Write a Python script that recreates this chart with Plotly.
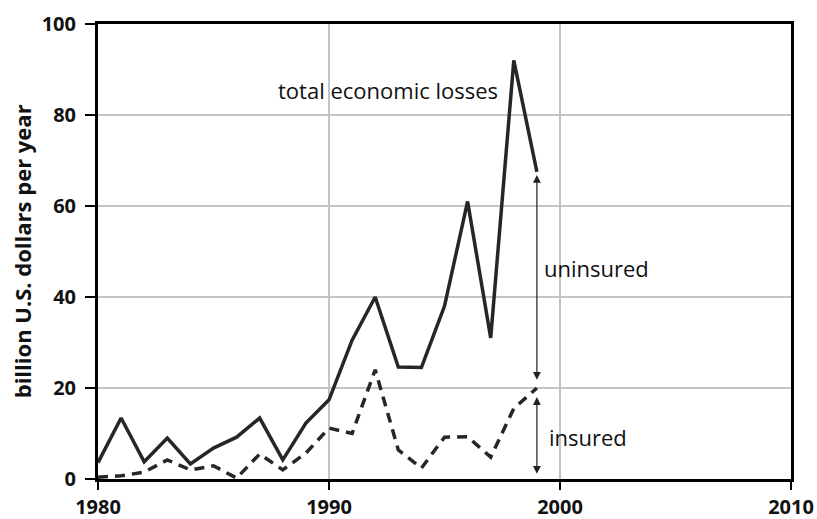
import plotly.graph_objects as go

years = list(range(1980, 2000))
total_losses = [3.6, 13.4, 3.8, 9.0, 3.3, 6.8, 9.2, 13.4, 4.2, 12.3, 17.4,
                30.5, 40.0, 24.6, 24.5, 38.0, 61.0, 31.0, 92.0, 67.5]
insured_losses = [0.4, 0.7, 1.5, 4.2, 2.0, 2.9, 0.2, 5.5, 2.0, 5.7, 11.2,
                  10.0, 24.0, 6.4, 2.4, 9.2, 9.3, 4.8, 15.5, 20.0]

x_ticks = [1980, 1990, 2000, 2010]
y_ticks = [0, 20, 40, 60, 80, 100]

fig = go.Figure()
fig.add_trace(go.Scatter(x=years, y=total_losses, mode="lines",
                         line=dict(color="#262626", width=3.5), showlegend=False))
fig.add_trace(go.Scatter(x=years, y=insured_losses, mode="lines",
                         line=dict(color="#262626", width=3.5, dash="10px,7px"),
                         showlegend=False))

# double-headed arrows
fig.add_annotation(x=1999, y=66.8, ax=1999, ay=21.5, xref="x", yref="y",
                   axref="x", ayref="y", showarrow=True, arrowhead=2,
                   arrowside="end+start", arrowsize=1.3, arrowwidth=1.2,
                   arrowcolor="#222", text="")
fig.add_annotation(x=1999, y=18.0, ax=1999, ay=0.8, xref="x", yref="y",
                   axref="x", ayref="y", showarrow=True, arrowhead=2,
                   arrowside="end+start", arrowsize=1.3, arrowwidth=1.2,
                   arrowcolor="#222", text="")

txt_font = dict(family="Open Sans, Noto Sans, sans-serif", size=22, color="#111")
fig.add_annotation(x=1992.55, y=85.5, text="total economic losses", showarrow=False,
                   font=txt_font, xanchor="center", yanchor="middle")
fig.add_annotation(x=1999.2, y=46.4, text="uninsured", showarrow=False,
                   font=txt_font, xanchor="left", yanchor="middle")
fig.add_annotation(x=1999.45, y=9.2, text="insured", showarrow=False,
                   font=txt_font, xanchor="left", yanchor="middle")

# y-axis title as rotated annotation
fig.add_annotation(x=-0.11, y=0.5, xref="paper", yref="paper",
                   text="billion U.S. dollars per year", showarrow=False,
                   textangle=-90, xanchor="center", yanchor="middle",
                   font=dict(family="Open Sans, sans-serif", size=22,
                             color="#111", weight="bold"))

tick_font = dict(family="Open Sans, sans-serif", size=20, color="#111",
                 weight="bold")
fig.update_xaxes(range=[1980, 2010], tickvals=x_ticks, ticks="outside", ticklen=8,
                 tickwidth=2, tickcolor="black", showline=True, linecolor="black",
                 linewidth=3, mirror=True, showgrid=True, gridcolor="#c4c4c4",
                 gridwidth=2, zeroline=False, tickfont=tick_font, automargin=False)
fig.update_yaxes(range=[0, 100], tickvals=y_ticks, ticks="outside", ticklen=10,
                 tickwidth=2, tickcolor="black", showline=True, linecolor="black",
                 linewidth=3, mirror=True, showgrid=True, gridcolor="#c4c4c4",
                 gridwidth=2, zeroline=False, tickfont=tick_font, automargin=False,
                 ticklabelstandoff=5)

fig.update_layout(width=817, height=519, plot_bgcolor="white", paper_bgcolor="white",
                  margin=dict(l=98, r=26, t=24, b=40))

fig.write_html("out.html", config={"displayModeBar": False},
               post_script="document.body.style.margin='0';document.body.style.overflow='hidden';")
